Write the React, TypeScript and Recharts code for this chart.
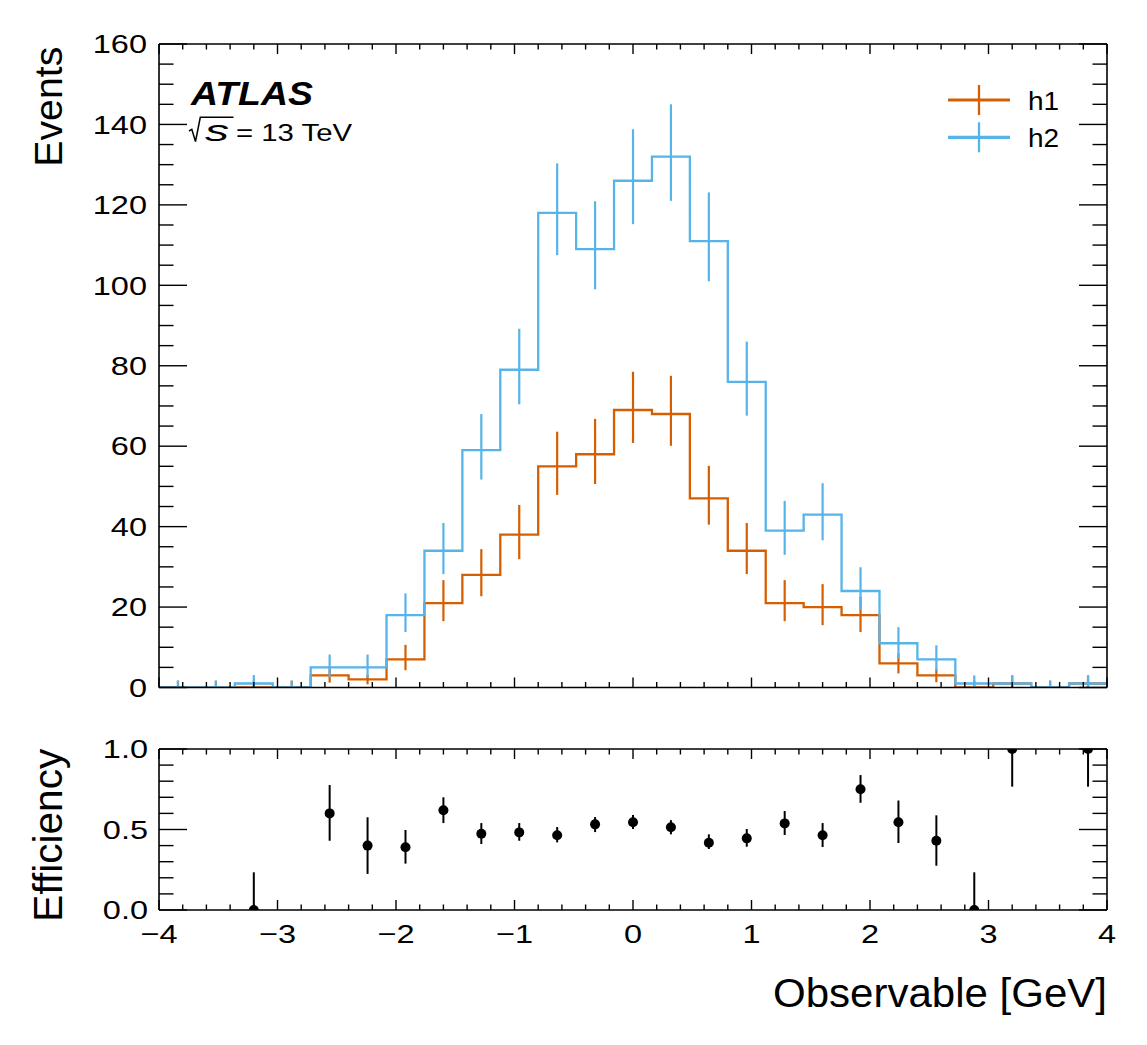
import React from 'react';
import { ComposedChart, Line, Scatter, XAxis, YAxis, ErrorBar, Legend } from 'recharts';

// ---------------- data ----------------
const binCenters = [-3.84, -3.52, -3.2, -2.88, -2.56, -2.24, -1.92, -1.6, -1.28, -0.96, -0.64, -0.32, 0, 0.32, 0.64, 0.96, 1.28, 1.6, 1.92, 2.24, 2.56, 2.88, 3.2, 3.52, 3.84];
const binHalfWidth = 0.16;

const h1Values = [0, 0, 0, 0, 3, 2, 7, 21, 28, 38, 55, 58, 69, 68, 47, 34, 21, 20, 18, 6, 3, 0, 1, 0, 1];
const h1Low = [0, 0, 0, 0, 1.2, 0.8, 4.3, 16.5, 22.7, 31.9, 47.9, 50.6, 60.8, 60.1, 40.5, 28.2, 16.5, 15.5, 13.8, 3.5, 1.3, 0, 0, 0, 0];
const h1High = [1.7, 1.7, 1.7, 1.7, 4.8, 3.2, 10.6, 26.7, 34.4, 45.4, 63.6, 66.8, 78.5, 77.5, 55.1, 40.9, 26.7, 25.7, 22.6, 8.5, 4.7, 1.7, 3.0, 1.7, 3.0];

const h2Values = [0, 0, 1, 0, 5, 5, 18, 34, 59, 79, 118, 109, 126, 132, 111, 76, 39, 43, 24, 11, 7, 1, 1, 0, 1];
const h2Low = [0, 0, 0, 0, 2.5, 2.5, 13.8, 28.2, 51.7, 70.4, 107.5, 99.0, 115.2, 121.0, 101.0, 67.6, 33.0, 36.6, 19.3, 7.3, 4.2, 0, 0, 0, 0];
const h2High = [1.7, 1.7, 3.1, 1.7, 8.2, 8.2, 23.4, 40.9, 68.0, 89.2, 130.3, 120.9, 138.8, 145.0, 123.1, 86.0, 46.4, 50.8, 29.9, 15.0, 10.5, 3.0, 3.0, 1.7, 3.0];

const effValues: (number | null)[] = [null, null, 0, null, 0.6, 0.4, 0.39, 0.62, 0.474, 0.482, 0.464, 0.532, 0.545, 0.514, 0.418, 0.445, 0.538, 0.464, 0.75, 0.545, 0.43, 0, 1, null, 1];
const effLow: (number | null)[] = [null, null, 0, null, 0.43, 0.224, 0.288, 0.54, 0.41, 0.43, 0.42, 0.484, 0.503, 0.47, 0.379, 0.393, 0.466, 0.391, 0.666, 0.416, 0.275, 0, 0.766, null, 0.766];
const effHigh: (number | null)[] = [null, null, 0.234, null, 0.776, 0.576, 0.497, 0.70, 0.54, 0.54, 0.515, 0.577, 0.59, 0.558, 0.47, 0.503, 0.615, 0.54, 0.838, 0.68, 0.588, 0.234, 1, null, 1];

const xMajorTicks = [-4, -3, -2, -1, 0, 1, 2, 3, 4];
const xTickLabels = ['\u22124', '\u22123', '\u22122', '\u22121', '0', '1', '2', '3', '4'];
const xMinorTicks = [-3.8, -3.6, -3.4, -3.2, -2.8, -2.6, -2.4, -2.2, -1.8, -1.6, -1.4, -1.2, -0.8, -0.6, -0.4, -0.2, 0.2, 0.4, 0.6, 0.8, 1.2, 1.4, 1.6, 1.8, 2.2, 2.4, 2.6, 2.8, 3.2, 3.4, 3.6, 3.8];
const yMajorTicks = [0, 20, 40, 60, 80, 100, 120, 140, 160];
const yTickLabels = ['0', '20', '40', '60', '80', '100', '120', '140', '160'];
const yMinorTicks = [5, 10, 15, 25, 30, 35, 45, 50, 55, 65, 70, 75, 85, 90, 95, 105, 110, 115, 125, 130, 135, 145, 150, 155];
const effMajorTicks = [0, 0.5, 1];
const effTickLabels = ['0.0', '0.5', '1.0'];
const effMinorTicks = [0.1, 0.2, 0.3, 0.4, 0.6, 0.7, 0.8, 0.9];

const legendNames = ['h1', 'h2'];
const seriesColors = ['#D55E00', '#56B4E9'];

// ---------------- derived tables ----------------
const stepRows = [
  ...binCenters.map((c, i) => ({ x: c - binHalfWidth, h1: h1Values[i], h2: h2Values[i] })),
  { x: binCenters[binCenters.length - 1] + binHalfWidth, h1: h1Values[h1Values.length - 1], h2: h2Values[h2Values.length - 1] },
];
const h1Rows = binCenters.map((c, i) => ({ x: c, v: h1Values[i], err: [h1Values[i] - h1Low[i], h1High[i] - h1Values[i]] }));
const h2Rows = binCenters.map((c, i) => ({ x: c, v: h2Values[i], err: [h2Values[i] - h2Low[i], h2High[i] - h2Values[i]] }));
const effRows = binCenters
  .map((c, i) => ({
    x: c,
    v: effValues[i],
    err: effValues[i] === null ? null : [(effValues[i] as number) - (effLow[i] as number), (effHigh[i] as number) - (effValues[i] as number)],
  }))
  .filter((r) => r.v !== null);

// ---------------- styling ----------------
const FONT = "'Liberation Sans', Arial, Helvetica, sans-serif";
const TICK_SX = 1.25;
const TICK_FS = 26;
const THIN = 0.01; // axes need a non-zero size to be drawn

const EmptyTick = () => <g />;
const EmptyShape = () => <g />;
const EffDot = (p: any) => <circle cx={p.cx} cy={p.cy} r={5} fill="#000" />;

const makeYLabel = (ticks: number[], labels: string[]) => (props: any) => {
  const { x, y, payload } = props;
  const label = labels[ticks.indexOf(payload.value)];
  return (
    <text transform={`translate(${x},${y + 9.2}) scale(${TICK_SX},1)`} textAnchor="end" fontSize={TICK_FS} fontFamily={FONT} fill="#000">
      {label}
    </text>
  );
};
const YTopLabel = makeYLabel(yMajorTicks, yTickLabels);
const YEffLabel = makeYLabel(effMajorTicks, effTickLabels);

const XTickLabel = (props: any) => {
  const { x, y, payload } = props;
  const label = xTickLabels[xMajorTicks.indexOf(payload.value)];
  return (
    <text transform={`translate(${x},${y}) scale(${TICK_SX},1)`} textAnchor="middle" fontSize={TICK_FS} fontFamily={FONT} fill="#000">
      {label}
    </text>
  );
};

const tickLineStyle = { stroke: '#000', strokeWidth: 1.4 };
const axisLineStyle = { stroke: '#000', strokeWidth: 1.6 };

function frameAxes(yMajor: number[], yMinor: number[], yDomain: [number, number]) {
  const xCommon = {
    type: 'number' as const,
    dataKey: 'x',
    domain: [-4, 4] as [number, number],
    allowDataOverflow: true,
    height: THIN,
    mirror: true,
    interval: 0 as const,
    tick: EmptyTick,
    tickLine: tickLineStyle,
  };
  const yCommon = {
    type: 'number' as const,
    domain: yDomain,
    allowDataOverflow: true,
    width: THIN,
    mirror: true,
    interval: 0 as const,
    tick: EmptyTick,
    tickLine: tickLineStyle,
  };
  return [
    <XAxis key="xb" xAxisId="b" orientation="bottom" ticks={xMajorTicks} tickSize={10} axisLine={axisLineStyle} {...xCommon} />,
    <XAxis key="xbm" xAxisId="bm" orientation="bottom" ticks={xMinorTicks} tickSize={5.5} axisLine={false} {...xCommon} />,
    <XAxis key="xt" xAxisId="t" orientation="top" ticks={xMajorTicks} tickSize={10} axisLine={axisLineStyle} {...xCommon} />,
    <XAxis key="xtm" xAxisId="tm" orientation="top" ticks={xMinorTicks} tickSize={5.5} axisLine={false} {...xCommon} />,
    <YAxis key="yl" yAxisId="l" orientation="left" ticks={yMajor} tickSize={28} axisLine={axisLineStyle} {...yCommon} />,
    <YAxis key="ylm" yAxisId="lm" orientation="left" ticks={yMinor} tickSize={14.5} axisLine={false} {...yCommon} />,
    <YAxis key="yr" yAxisId="r" orientation="right" ticks={yMajor} tickSize={28} axisLine={axisLineStyle} {...yCommon} />,
    <YAxis key="yrm" yAxisId="rm" orientation="right" ticks={yMinor} tickSize={14.5} axisLine={false} {...yCommon} />,
  ];
}

// invisible series so that every decorative x axis has an item bound to it
function anchorSeries(ids: string[], rows: any[]) {
  return ids.map((id) => (
    <Scatter key={`anchor-${id}`} data={rows} xAxisId={id} yAxisId="l" dataKey="v" shape={EmptyShape} legendType="none" isAnimationActive={false} />
  ));
}

const renderLegend = () => (
  <svg width={170} height={80} style={{ display: 'block', overflow: 'visible' }}>
    {legendNames.map((name, i) => {
      const cy = 22 + i * 37.3;
      return (
        <g key={name}>
          <line x1={18} x2={80} y1={cy} y2={cy} stroke={seriesColors[i]} strokeWidth={3.2} />
          <line x1={49} x2={49} y1={cy - 15} y2={cy + 15} stroke={seriesColors[i]} strokeWidth={2.3} />
          <text transform={`translate(98,${cy + 10}) scale(1.12,1)`} fontSize={25} fontFamily={FONT} fill="#000">
            {name}
          </text>
        </g>
      );
    })}
  </svg>
);

export default function App() {
  return (
    <div style={{ position: 'absolute', left: 0, top: 0, width: 1147, height: 1045, background: '#fff', overflow: 'hidden' }}>
      <div style={{ position: 'absolute', left: 0, top: 0 }}>
        <ComposedChart width={1147} height={720} margin={{ top: 44, right: 40, bottom: 32.5, left: 159 }}>
          {frameAxes(yMajorTicks, yMinorTicks, [0, 160])}
          <YAxis
            yAxisId="lab"
            orientation="left"
            type="number"
            domain={[0, 160]}
            allowDataOverflow
            width={THIN}
            ticks={yMajorTicks}
            interval={0}
            tickLine={false}
            axisLine={false}
            tickSize={0}
            tickMargin={12}
            tick={YTopLabel}
          />
          {anchorSeries(['bm', 't', 'tm'], h1Rows)}
          <Line
            data={stepRows}
            xAxisId="b"
            yAxisId="l"
            dataKey="h1"
            type="stepAfter"
            stroke={seriesColors[0]}
            strokeWidth={2.3}
            dot={false}
            activeDot={false}
            isAnimationActive={false}
          />
          <Scatter data={h1Rows} xAxisId="b" yAxisId="l" dataKey="v" shape={EmptyShape} isAnimationActive={false}>
            <ErrorBar dataKey="err" direction="y" width={0} stroke={seriesColors[0]} strokeWidth={2.2} isAnimationActive={false} />
          </Scatter>
          <Line
            data={stepRows}
            xAxisId="b"
            yAxisId="l"
            dataKey="h2"
            type="stepAfter"
            stroke={seriesColors[1]}
            strokeWidth={2.3}
            dot={false}
            activeDot={false}
            isAnimationActive={false}
          />
          <Scatter data={h2Rows} xAxisId="b" yAxisId="l" dataKey="v" shape={EmptyShape} isAnimationActive={false}>
            <ErrorBar dataKey="err" direction="y" width={0} stroke={seriesColors[1]} strokeWidth={2.2} isAnimationActive={false} />
          </Scatter>
          <Legend
            layout="vertical"
            align="center"
            verticalAlign="middle"
            width={170}
            height={80}
            wrapperStyle={{ left: 930, top: 78 }}
            content={renderLegend}
          />
        </ComposedChart>
      </div>
      <div style={{ position: 'absolute', left: 0, top: 720 }}>
        <ComposedChart width={1147} height={325} margin={{ top: 29, right: 40, bottom: 135, left: 159 }}>
          {frameAxes(effMajorTicks, effMinorTicks, [0, 1])}
          <YAxis
            yAxisId="lab"
            orientation="left"
            type="number"
            domain={[0, 1]}
            allowDataOverflow
            width={THIN}
            ticks={effMajorTicks}
            interval={0}
            tickLine={false}
            axisLine={false}
            tickSize={0}
            tickMargin={11}
            tick={YEffLabel}
          />
          <XAxis
            xAxisId="lab"
            orientation="bottom"
            type="number"
            dataKey="x"
            domain={[-4, 4]}
            allowDataOverflow
            height={THIN}
            ticks={xMajorTicks}
            interval={0}
            tickLine={false}
            axisLine={false}
            tickSize={0}
            tickMargin={33.5}
            tick={XTickLabel}
          />
          {anchorSeries(['bm', 't', 'tm', 'lab'], effRows)}
          <Scatter data={effRows} xAxisId="b" yAxisId="l" dataKey="v" shape={EffDot} isAnimationActive={false}>
            <ErrorBar dataKey="err" direction="y" width={0} stroke="#000" strokeWidth={2} isAnimationActive={false} />
          </Scatter>
        </ComposedChart>
      </div>
      <svg style={{ position: 'absolute', left: 0, top: 0, pointerEvents: 'none' }} width={1147} height={1045}>
        <text x={191} y={105} fontSize={32.5} fontWeight="bold" fontStyle="italic" fontFamily={FONT} textLength={122} lengthAdjust="spacingAndGlyphs" fill="#000">
          ATLAS
        </text>
        <path d="M189 131 L191.8 129.4 L195.5 141.5 L200.3 117.3 L233.5 117.3" stroke="#000" strokeWidth={1.5} fill="none" />
        <text x={205} y={141} fontSize={30} fontStyle="italic" fontFamily={FONT} textLength={24} lengthAdjust="spacingAndGlyphs" fill="#000">
          s
        </text>
        <text x={236} y={141} fontSize={24} fontFamily={FONT} textLength={116} lengthAdjust="spacingAndGlyphs" fill="#000">
          = 13 TeV
        </text>
        <text transform="translate(61.7,166.7) rotate(-90)" fontSize={39.5} fontFamily={FONT} textLength={120} lengthAdjust="spacingAndGlyphs" fill="#000">
          Events
        </text>
        <text transform="translate(61.7,921.7) rotate(-90)" fontSize={40.5} fontFamily={FONT} textLength={173} lengthAdjust="spacingAndGlyphs" fill="#000">
          Efficiency
        </text>
        <text x={773} y={1007} fontSize={40} fontFamily={FONT} textLength={334} lengthAdjust="spacingAndGlyphs" fill="#000">
          Observable [GeV]
        </text>
      </svg>
    </div>
  );
}
